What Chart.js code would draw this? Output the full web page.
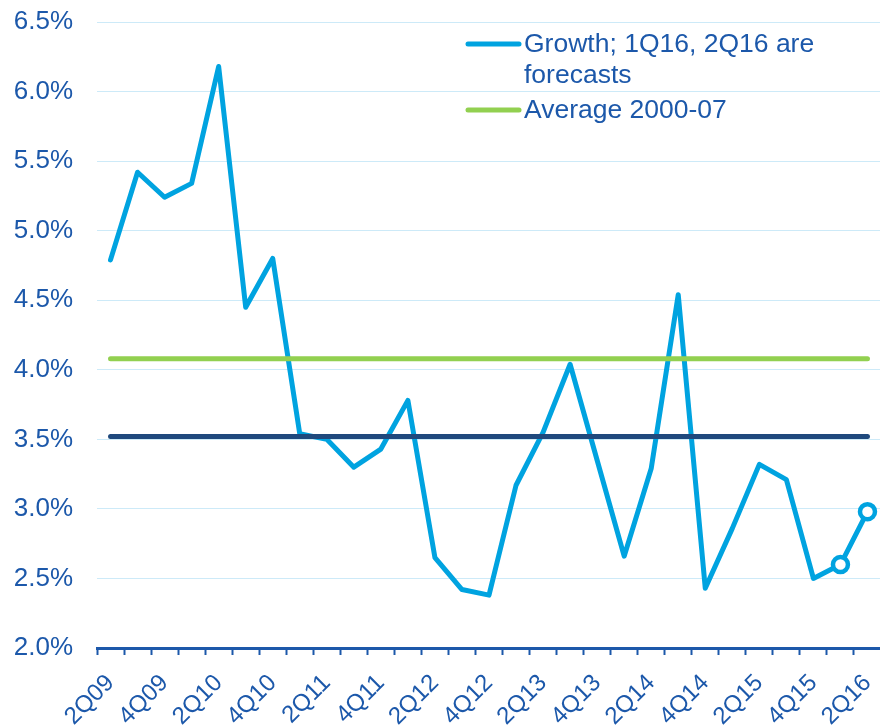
<!DOCTYPE html>
<html>
<head>
<meta charset="utf-8">
<script src="https://cdn.jsdelivr.net/npm/chart.js@4/dist/chart.umd.min.js"></script>
<style>
  html, body { margin: 0; padding: 0; background: #ffffff; overflow: hidden; }
  #wrap { position: relative; width: 893px; height: 727px; }
</style>
</head>
<body>
<div id="wrap"><canvas id="c"></canvas></div>
<script>
// ---- data ----
const quarters = ['2Q09','3Q09','4Q09',
  '1Q10','2Q10','3Q10','4Q10',
  '1Q11','2Q11','3Q11','4Q11',
  '1Q12','2Q12','3Q12','4Q12',
  '1Q13','2Q13','3Q13','4Q13',
  '1Q14','2Q14','3Q14','4Q14',
  '1Q15','2Q15','3Q15','4Q15',
  '1Q16','2Q16'];
const growth = [4.79, 5.42, 5.24,
  5.34, 6.18, 4.45, 4.80,
  3.54, 3.50, 3.30, 3.43,
  3.78, 2.65, 2.42, 2.38,
  3.17, 3.55, 4.04, 3.35,
  2.66, 3.29, 4.54, 2.43,
  2.86, 3.32, 3.21, 2.50,
  2.60, 2.98];
const average200007 = quarters.map(() => 4.08);
const recentAverage = quarters.map(() => 3.52);
const forecastQuarters = ['1Q16', '2Q16'];
const yTickValues = [2.0, 2.5, 3.0, 3.5, 4.0, 4.5, 5.0, 5.5, 6.0, 6.5];
const growthLegend = ['Growth; 1Q16, 2Q16 are', 'forecasts'];
const averageLegend = ['Average 2000-07'];

// ---- styles ----
const TEXT = '#1C58AA';
const BLUE = '#00A3E0';
const GREEN = '#92D050';
const NAVY = '#1F497D';
const GRID = '#CDEAF8';
const FONT = '"Liberation Sans", Arial, sans-serif';

const legendPlugin = {
  id: 'customLegend',
  afterDatasetsDraw(chart) {
    const ctx = chart.ctx;
    const items = [
      { color: BLUE, lines: growthLegend, y: 44 },
      { color: GREEN, lines: averageLegend, y: 110 }
    ];
    ctx.save();
    ctx.font = '26.5px ' + FONT;
    ctx.textBaseline = 'middle';
    ctx.textAlign = 'left';
    items.forEach(it => {
      ctx.strokeStyle = it.color;
      ctx.lineWidth = 5;
      ctx.lineCap = 'round';
      ctx.beginPath();
      ctx.moveTo(468, it.y);
      ctx.lineTo(519, it.y);
      ctx.stroke();
      ctx.fillStyle = TEXT;
      it.lines.forEach((t, i) => ctx.fillText(t, 524, it.y + 1 + i * 31));
    });
    ctx.restore();
  }
};

new Chart(document.getElementById('c'), {
  type: 'line',
  data: {
    labels: quarters,
    datasets: [
      {
        label: 'Average recent',
        data: recentAverage,
        borderColor: NAVY,
        borderWidth: 5,
        borderCapStyle: 'round',
        pointRadius: 0,
        order: 0
      },
      {
        label: averageLegend.join(' '),
        data: average200007,
        borderColor: GREEN,
        borderWidth: 5,
        borderCapStyle: 'round',
        pointRadius: 0,
        order: 1
      },
      {
        label: growthLegend.join(' '),
        data: growth,
        borderColor: BLUE,
        borderWidth: 5,
        borderCapStyle: 'round',
        borderJoinStyle: 'round',
        tension: 0,
        pointRadius: c => forecastQuarters.includes(quarters[c.dataIndex]) ? 7.5 : 0,
        pointHoverRadius: c => forecastQuarters.includes(quarters[c.dataIndex]) ? 7.5 : 0,
        pointBorderWidth: 4.5,
        pointBackgroundColor: '#ffffff',
        pointBorderColor: BLUE,
        order: 2
      }
    ]
  },
  options: {
    responsive: true,
    maintainAspectRatio: false,
    animation: false,
    layout: { padding: { top: 22, right: 2, bottom: 0, left: 0 } },
    plugins: {
      legend: { display: false },
      tooltip: { enabled: false }
    },
    scales: {
      x: {
        offset: true,
        grid: {
          display: true,
          offset: true,
          drawOnChartArea: false,
          drawTicks: true,
          tickLength: 7,
          tickColor: TEXT,
          tickWidth: 2
        },
        border: { display: true, color: TEXT, width: 3 },
        ticks: {
          autoSkip: false,
          minRotation: 45,
          maxRotation: 45,
          padding: 14,
          color: TEXT,
          font: { family: FONT, size: 24 },
          callback: function (v, i) { return i % 2 === 0 ? quarters[i] : ''; }
        },
        afterFit: s => { s.height = 79; s.paddingLeft = 0; s.paddingRight = 0; }
      },
      y: {
        min: 2.0,
        max: 6.5,
        afterBuildTicks: s => { s.ticks = yTickValues.map(v => ({ value: v })); },
        grid: { color: GRID, lineWidth: 1, drawTicks: false },
        border: { display: false },
        ticks: {
          padding: 24,
          color: TEXT,
          font: { family: FONT, size: 26 },
          callback: v => Number(v).toFixed(1) + '%'
        },
        afterFit: s => { s.width = 97; s.paddingTop = 0; s.paddingBottom = 0; }
      }
    }
  },
  plugins: [legendPlugin]
});
</script>
</body>
</html>
